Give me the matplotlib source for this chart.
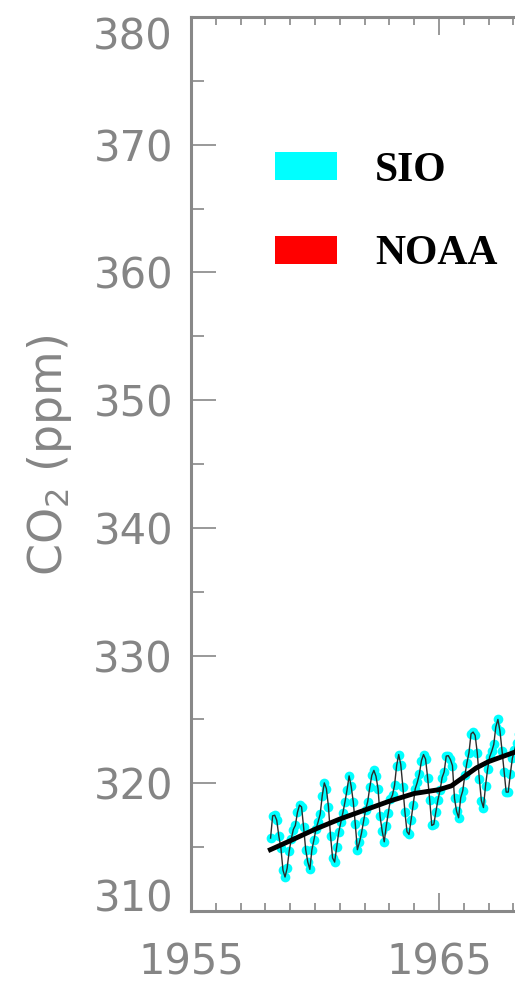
import matplotlib
matplotlib.use('Agg')
import matplotlib.pyplot as plt
from matplotlib.patches import Patch
import numpy as np

# SIO monthly CO2 (ppm), Mauna Loa, first value = March 1958
sio_start = 1958 + 2 / 12
sio_co2 = [
  315.71, 317.45, 317.50, 317.10, 315.86, 314.93, 313.20, 312.66, 313.33, 314.67,
  315.62, 316.38, 316.71, 317.72, 318.29, 318.15, 316.54, 314.80, 313.84, 313.26, 314.80, 315.58,
  316.43, 316.97, 317.58, 319.02, 320.03, 319.59, 318.18, 315.91, 314.16, 313.83, 315.00, 316.19,
  316.93, 317.70, 318.54, 319.48, 320.58, 319.77, 318.57, 316.79, 314.80, 315.38, 316.10, 317.01,
  317.94, 318.56, 319.68, 320.63, 321.01, 320.55, 319.58, 317.40, 316.26, 315.42, 316.69, 317.69,
  318.74, 319.08, 319.86, 321.39, 322.25, 321.47, 319.74, 317.77, 316.21, 315.99, 317.12, 318.31,
  319.57, 320.07, 320.73, 321.77, 322.25, 321.89, 320.44, 318.70, 316.70, 316.79, 317.79, 318.71,
  319.44, 320.44, 320.89, 322.13, 322.16, 321.87, 321.39, 318.81, 317.81, 317.30, 318.87, 319.42,
  320.62, 321.59, 322.39, 323.87, 324.01, 323.75, 322.39, 320.37, 318.64, 318.10, 319.79, 321.08,
  322.07, 322.50, 323.04, 324.42, 325.00, 324.09, 322.55, 320.92, 319.31, 319.31, 320.72, 321.96,
  322.57, 323.15, 323.89, 325.02, 325.57, 325.36, 324.14, 322.03, 320.41, 320.25, 321.31, 322.84,
]

# smoothed trend
trend_year = [1958.2, 1959.0, 1960.0, 1961.0, 1962.0, 1963.0, 1964.0, 1965.0,
              1965.5, 1966.0, 1966.5, 1967.0, 1968.0, 1968.5]
trend_co2 = [314.8, 315.5, 316.4, 317.2, 317.9, 318.6, 319.2, 319.5,
             319.8, 320.5, 321.2, 321.7, 322.4, 322.7]

x_ticks = [1955, 1965, 1975, 1985, 1995, 2005]
y_ticks = [310, 320, 330, 340, 350, 360, 370, 380]
legend_labels = ['SIO', 'NOAA']
legend_colors = ['#00ffff', '#ff0000']

t = sio_start + (np.arange(len(sio_co2)) + 0.5) / 12

W, H = 515, 984
fig = plt.figure(figsize=(W / 100, H / 100), dpi=100)
# axes runs on past the right edge of the picture (the reference is cropped)
ax = fig.add_axes([191 / W, 73 / H, 1240 / W, 894 / H])

ax.plot(t, sio_co2, 'o', color='#00ffff', ms=7, mec='none', zorder=2)
ax.plot(t, sio_co2, '-', color='#2a2a2a', lw=1.0, zorder=3)
ax.plot(trend_year, trend_co2, '-', color='black', lw=3.5, zorder=4)

ax.set_xlim(1955, 2005)
ax.set_ylim(310, 380)
ax.set_xticks(x_ticks)
# only the first two decades are inside the picture
ax.set_xticklabels([str(v) if v < 1970 else '' for v in x_ticks])
ax.set_xticks(np.arange(1955, 2006, 1), minor=True)
ax.set_yticks(y_ticks)
ax.set_yticks(np.arange(310, 381, 5), minor=True)

gray = '#888888'
txt = '#858585'
for s in ax.spines.values():
  s.set_color(gray)
  s.set_linewidth(2.2)
ax.tick_params(which='both', direction='in', top=True, right=True, color=gray,
               labelcolor=txt, labelsize=30)
ax.tick_params(axis='x', which='major', length=13, width=1.2, pad=22)
ax.tick_params(axis='x', which='minor', length=6, width=1.2)
ax.tick_params(axis='y', which='major', length=18, width=1.2, pad=13)
ax.tick_params(axis='y', which='minor', length=9, width=1.2)

# end labels pushed inside the axis range
yt = ax.yaxis.get_major_ticks()
yt[0].label1.set_va('baseline')
yt[-1].label1.set_va('top')

ax.set_ylabel('CO$_2$ (ppm)', fontsize=33, color=txt)
ax.yaxis.set_label_coords(-0.094, 0.51)

handles = [Patch(facecolor=c, edgecolor='none') for c in legend_colors]
fig.legend(handles, legend_labels, loc='upper left',
           bbox_to_anchor=(275 / W, 1 - 152 / H), bbox_transform=fig.transFigure,
           frameon=False, borderpad=0, borderaxespad=0,
           handlelength=1.49, handleheight=0.65, handletextpad=0.91,
           labelspacing=1.09,
           prop={'family': 'Liberation Serif', 'weight': 'bold', 'size': 30})

fig.savefig('out.png', dpi=100)
